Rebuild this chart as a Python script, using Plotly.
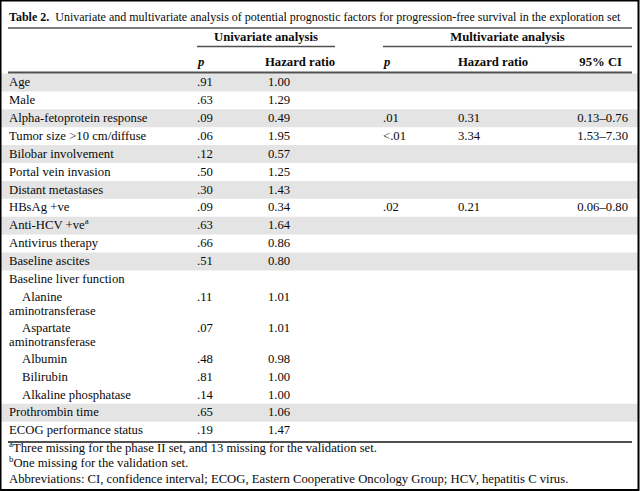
import plotly.graph_objects as go

# ---------------- data ----------------
title_bold = "Table 2."
title_text = "Univariate and multivariate analysis of potential prognostic factors for progression-free survival in the exploration set"
group_headers = ["Univariate analysis", "Multivariate analysis"]
col_headers = ["p", "Hazard ratio", "p", "Hazard ratio", "95% CI"]

labels = ["Age", "Male", "Alpha-fetoprotein response", "Tumor size >10 cm/diffuse",
          "Bilobar involvement", "Portal vein invasion", "Distant metastases", "HBsAg +ve",
          "Anti-HCV +ve<sup>a</sup>", "Antivirus therapy", "Baseline ascites",
          "Baseline liver function", "Alanine<br>aminotransferase", "Aspartate<br>aminotransferase",
          "Albumin", "Bilirubin", "Alkaline phosphatase", "Prothrombin time", "ECOG performance status"]
indent = [0, 0, 0, 0, 0, 0, 0, 0, 0, 0, 0, 0, 1, 1, 1, 1, 1, 0, 0]
band_group = [0, 1, 2, 3, 4, 5, 6, 7, 8, 9, 10, 11, 11, 11, 11, 11, 11, 12, 13]
uni_p = [".91", ".63", ".09", ".06", ".12", ".50", ".30", ".09", ".63", ".66", ".51", "",
         ".11", ".07", ".48", ".81", ".14", ".65", ".19"]
uni_hr = ["1.00", "1.29", "0.49", "1.95", "0.57", "1.25", "1.43", "0.34", "1.64", "0.86", "0.80", "",
          "1.01", "1.01", "0.98", "1.00", "1.00", "1.06", "1.47"]
multi_p = ["", "", ".01", "<.01", "", "", "", ".02", "", "", "", "", "", "", "", "", "", "", ""]
multi_hr = ["", "", "0.31", "3.34", "", "", "", "0.21", "", "", "", "", "", "", "", "", "", "", ""]
multi_ci = ["", "", "0.13–0.76", "1.53–7.30", "", "", "", "0.06–0.80", "", "", "", "", "", "", "", "", "", "", ""]
footnotes = ["<sup>a</sup>Three missing for the phase II set, and 13 missing for the validation set.",
             "<sup>b</sup>One missing for the validation set.",
             "Abbreviations: CI, confidence interval; ECOG, Eastern Cooperative Oncology Group; HCV, hepatitis C virus."]

# ---------------- layout constants ----------------
W, H = 640, 491
FONT = "Liberation Serif, Times New Roman, serif"
FS = 12.7
FS_TITLE = 12.0
FS_FOOT = 12.7
INK = "#0a0a0a"
BAND = "#e4e4e4"
RULE = "#505050"

X_LABEL, X_INDENT = 9, 22
X_UP, X_UHR, X_MP, X_MHR, X_CI = 197, 268, 383, 458, 628
Y_TITLE, Y_GROUP, Y_GROUP_RULE, Y_COLHEAD, Y_HEAD_RULE = 17.5, 37.5, 46.5, 62.5, 72.5
ROW_TOP0, ROW_H, EXTRA_LINE_H, FIRST_LINE, LINE_GAP = 73.5, 17.9, 13, 9.5, 14

# compute row geometry
row_tops, row_bots, first_y, lines_list = [], [], [], []
y = ROW_TOP0
for lab in labels:
    lines = lab.split("<br>")
    h = ROW_H + EXTRA_LINE_H * (len(lines) - 1)
    row_tops.append(y)
    row_bots.append(y + h)
    first_y.append(y + FIRST_LINE)
    lines_list.append(lines)
    y += h
table_bottom = y
Y_FOOT_RULE = table_bottom + 2.5
Y_FOOT0, FOOT_GAP = Y_FOOT_RULE + 7, 15.2

fig = go.Figure()

def add_text(xs, ys, texts, pos, size=FS):
    fig.add_trace(go.Scatter(x=xs, y=ys, text=texts, mode="text", textposition=pos,
                             textfont=dict(family=FONT, size=size, color=INK),
                             hoverinfo="skip", cliponaxis=False, showlegend=False))

# title
add_text([X_LABEL], [Y_TITLE], ["<b>" + title_bold + "</b>  " + title_text], "middle right", FS_TITLE)

# group headers
add_text([(X_UP + 335) / 2, (X_MP + 632) / 2], [Y_GROUP, Y_GROUP],
         ["<b>" + g + "</b>" for g in group_headers], "middle center")

# column headers
add_text([X_UP + 1, X_UHR - 3, X_MP + 1, X_MHR], [Y_COLHEAD] * 4,
         ["<b><i>p</i></b>", "<b>" + col_headers[1] + "</b>", "<b><i>p</i></b>", "<b>" + col_headers[3] + "</b>"],
         "middle right")
add_text([622], [Y_COLHEAD], ["<b>" + col_headers[4] + "</b>"], "middle left")

# labels
lx, ly, lt = [], [], []
for i, lines in enumerate(lines_list):
    for j, ln in enumerate(lines):
        lx.append(X_INDENT if (indent[i] and j == 0) else X_LABEL)
        ly.append(first_y[i] + j * LINE_GAP)
        lt.append(ln)
add_text(lx, ly, lt, "middle right")

# value columns
for xpos, vals, pos in [(X_UP, uni_p, "middle right"), (X_UHR, uni_hr, "middle right"),
                        (X_MP, multi_p, "middle right"), (X_MHR, multi_hr, "middle right"),
                        (X_CI, multi_ci, "middle left")]:
    idx = [i for i, v in enumerate(vals) if v]
    add_text([xpos] * len(idx), [first_y[i] for i in idx], [vals[i] for i in idx], pos)

# footnotes
add_text([X_LABEL] * len(footnotes), [Y_FOOT0 + k * FOOT_GAP for k in range(len(footnotes))],
         footnotes, "middle right", FS_FOOT)

# shapes: bands, rules, border
shapes = []
for i in range(len(labels)):
    if band_group[i] % 2 == 0:
        shapes.append(dict(type="rect", xref="x", yref="y", x0=1, x1=638, y0=row_tops[i], y1=row_bots[i],
                           fillcolor=BAND, line=dict(width=0), layer="below"))
shapes += [
    dict(type="line", xref="x", yref="y", x0=8, x1=632, y0=28, y1=28, line=dict(color=RULE, width=1.5)),
    dict(type="line", xref="x", yref="y", x0=197, x1=335, y0=Y_GROUP_RULE, y1=Y_GROUP_RULE, line=dict(color=RULE, width=1.5)),
    dict(type="line", xref="x", yref="y", x0=383, x1=632, y0=Y_GROUP_RULE, y1=Y_GROUP_RULE, line=dict(color=RULE, width=1.5)),
    dict(type="line", xref="x", yref="y", x0=8, x1=632, y0=Y_HEAD_RULE, y1=Y_HEAD_RULE, line=dict(color=RULE, width=2)),
    dict(type="line", xref="x", yref="y", x0=8, x1=632, y0=Y_FOOT_RULE, y1=Y_FOOT_RULE, line=dict(color=RULE, width=2)),
    dict(type="rect", xref="x", yref="y", x0=0.5, x1=638.5, y0=0.5, y1=490, line=dict(color="black", width=2),
         fillcolor="rgba(0,0,0,0)", layer="above"),
]

fig.update_layout(
    width=W, height=H, margin=dict(l=0, r=0, t=0, b=0),
    paper_bgcolor="white", plot_bgcolor="white", showlegend=False,
    xaxis=dict(range=[0, W], visible=False, fixedrange=True),
    yaxis=dict(range=[H, 0], visible=False, fixedrange=True),
    shapes=shapes,
)

fig.write_html("out.html", config={"displayModeBar": False, "staticPlot": True},
               post_script="document.body.style.margin='0';document.documentElement.style.overflow='hidden';")
